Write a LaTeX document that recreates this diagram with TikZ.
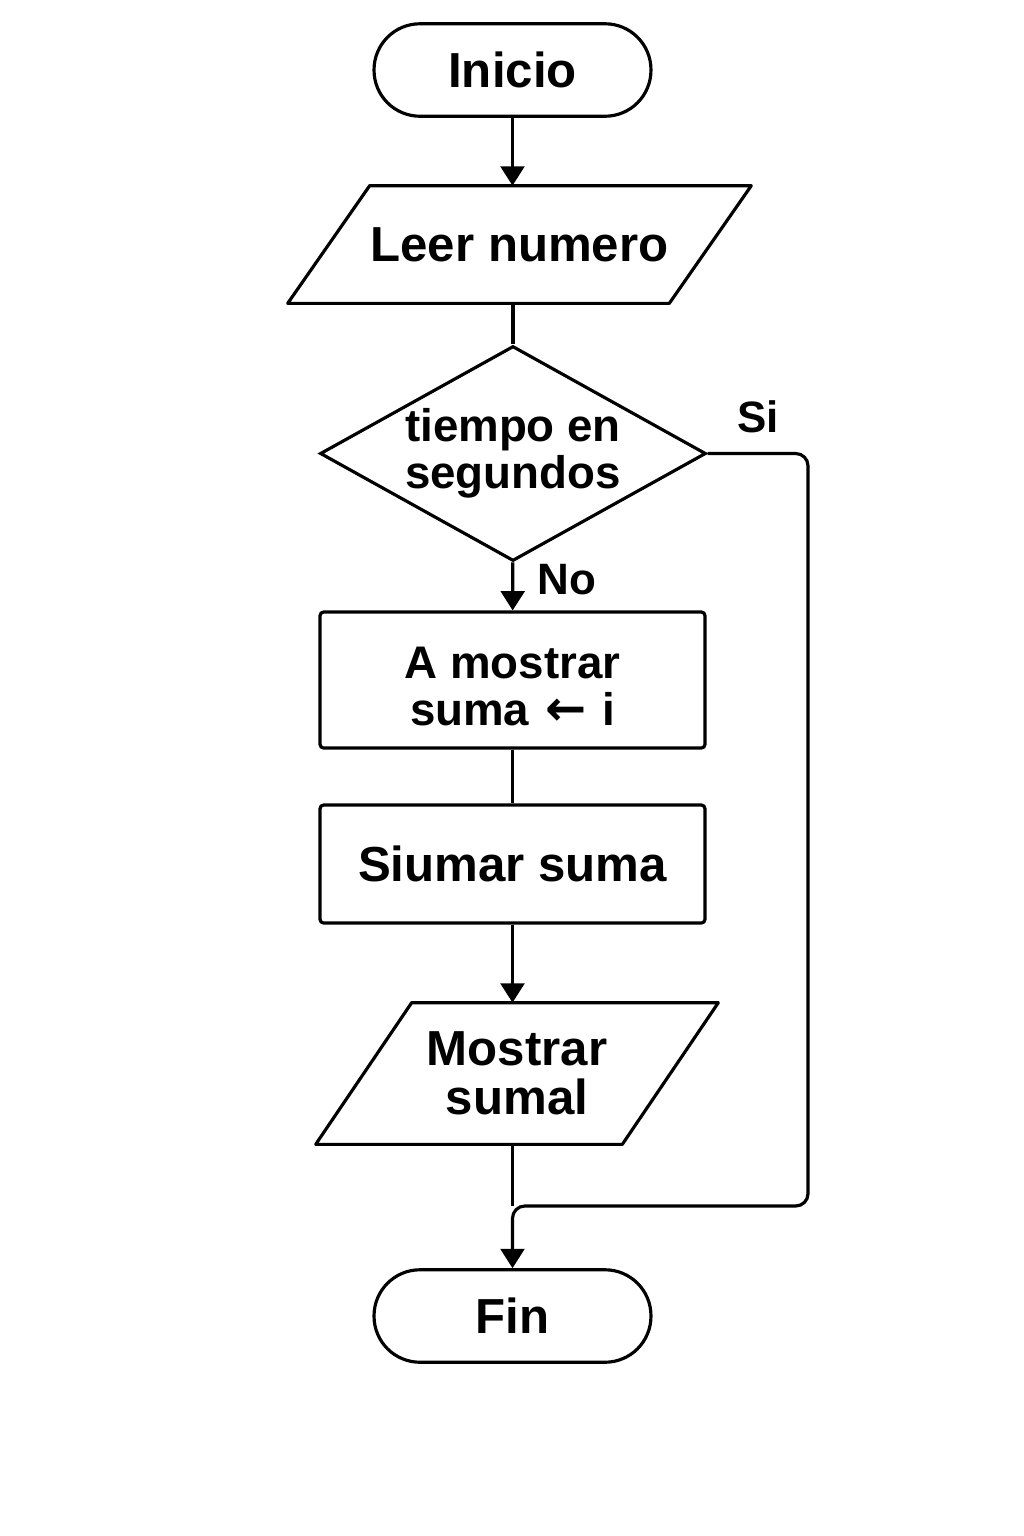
\documentclass[tikz,border=0pt]{standalone}
\usepackage{fontspec}
\newfontfamily\chartfont{Liberation Sans}
\newfontfamily\arrowfont{DejaVu Sans}
\usetikzlibrary{arrows.meta,positioning,shapes.geometric,calc}
\newcommand{\bigtxt}{\chartfont\bfseries\fontsize{28}{28}\selectfont}
\newcommand{\midtxt}{\chartfont\bfseries\fontsize{26}{27}\selectfont}
\tikzset{term/.style={draw,line width=1.8pt,rounded corners=0.92cm,minimum width=5.54cm,minimum height=1.85cm,align=center,font=\bigtxt},
  io/.style={inner sep=0pt,align=center,font=\bigtxt},
  proc/.style={draw,line width=1.8pt,rounded corners=2pt,minimum width=7.7cm,align=center,font=\bigtxt},
  decide/.style={draw,line width=1.8pt,diamond,aspect=1.8,inner sep=0pt,minimum width=7.72cm,minimum height=4.3cm,align=center,font=\midtxt},
  lbl/.style={inner sep=2pt,font=\chartfont\bfseries\fontsize{25}{25}\selectfont},
  ln/.style={line width=1.8pt},
  arr/.style={-{Triangle[length=11pt,width=13.5pt]},line width=1.8pt}}
\begin{document}
\begin{tikzpicture}[x=0.02cm,y=-0.02cm]
\useasboundingbox (0,0) rectangle (1024,1536);
\node[term] (ini) at (512.5,70){Inicio};
\node[io,minimum width=7.62cm,minimum height=2.34cm] (leer) at (519.5,244.5){Leer numero};
\draw[ln,line join=round] ($(leer.north west)+(41,0)$) -- ($(leer.north east)+(41,0)$) -- ($(leer.south east)+(-41,0)$) -- ($(leer.south west)+(-41,0)$) -- cycle;
\node[decide,inner sep=-2pt] (dec) at (513,453.5){tiempo en\\segundos};
\node[proc,minimum height=2.72cm,font=\midtxt] (asig) at (512.5,680){\rule{0pt}{25pt}A mostrar\\suma\hspace{9pt}{\arrowfont\fontsize{28}{27}\selectfont ←}\hspace{9pt}i};
\node[proc,minimum height=2.36cm] (sumar) at (512.5,864){Siumar suma};
\node[io,minimum width=6.12cm,minimum height=2.82cm] (mostrar) at (517,1073.5){Mostrar\\sumal};
\draw[ln,line join=round] ($(mostrar.north west)+(48,0)$) -- ($(mostrar.north east)+(48,0)$) -- ($(mostrar.south east)+(-48,0)$) -- ($(mostrar.south west)+(-48,0)$) -- cycle;
\node[term] (fin) at (512.5,1316){Fin};
\coordinate (join) at (512.5,1206); \coordinate (sidown) at (808,1206);
\draw[arr] (ini)--(leer.north -| ini); \draw[ln] (leer.south -| dec.north)--(dec);
\draw[arr] (dec)-- node[lbl,right=0.4cm,yshift=4pt]{No} (asig); \draw[ln] (asig)--(sumar); \draw[arr] (sumar)--(mostrar.north -| sumar);
\draw[ln] (mostrar.south -| join)--(join);
\draw[arr,rounded corners=7pt] (dec.east) -| node[lbl,pos=0.25,above=0.3cm]{Si} (sidown) -- (join) -- (fin);
\end{tikzpicture}
\end{document}
